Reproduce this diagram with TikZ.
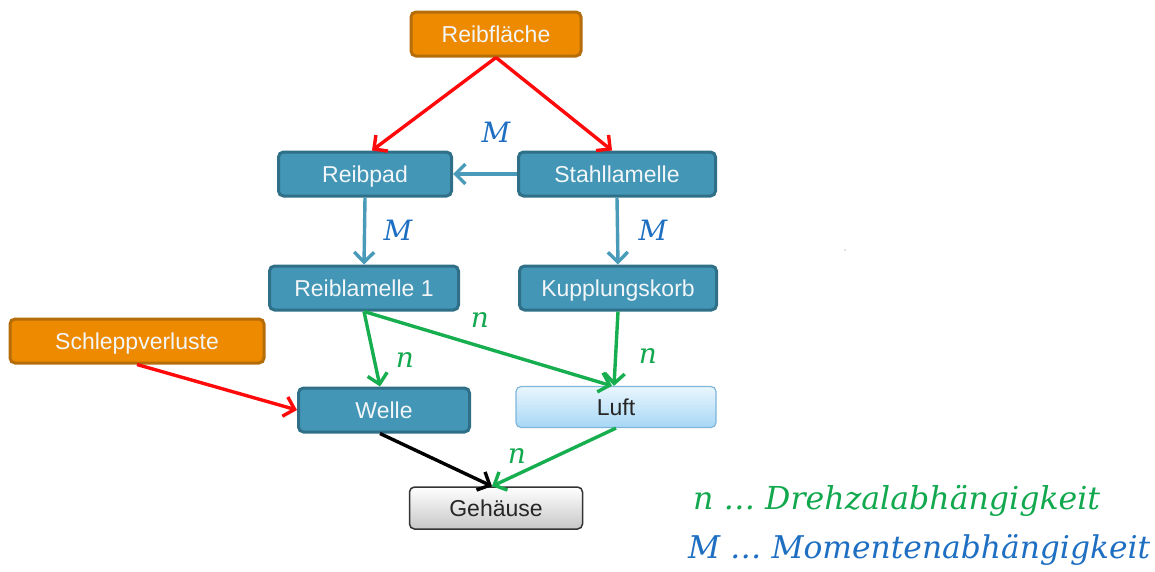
\documentclass[tikz,border=0pt]{standalone}
\usepackage{fontspec}
\setmainfont{Liberation Sans}
\newfontfamily\mathlike{DejaVu Serif}
\usetikzlibrary{arrows.meta,calc}

\definecolor{orangefill}{HTML}{EE8A00}
\definecolor{orangeedge}{HTML}{B56D0A}
\definecolor{tealfill}{HTML}{4396B6}
\definecolor{tealedge}{HTML}{2F6F87}
\definecolor{tealline}{HTML}{4A9BBA}
\definecolor{airtop}{HTML}{EAF6FE}
\definecolor{airbottom}{HTML}{A6D7F5}
\definecolor{airedge}{HTML}{7DB6D9}
\definecolor{redline}{HTML}{FF0A0A}
\definecolor{greenline}{HTML}{17AE4F}
\definecolor{labelblue}{HTML}{1E6FC2}
\definecolor{labelgreen}{HTML}{12A84E}
\definecolor{boxtext}{HTML}{F2F6F8}

\tikzset{
  box/.style={rounded corners=5pt, line width=3pt, minimum height=44pt,
    inner sep=0pt, text height=16.5pt, text depth=0pt,
    font=\fontsize{23}{26}\selectfont, text=boxtext},
  source/.style={box, fill=orangefill, draw=orangeedge},
  part/.style={box, fill=tealfill, draw=tealedge},
  air/.style={box, line width=1.2pt, draw=airedge, top color=airtop,
    bottom color=airbottom, text=black!85, minimum height=41pt},
  housing/.style={box, line width=1.5pt, draw=black!80, top color=white,
    bottom color=black!22, text=black!85, minimum height=42pt},
  link/.style={line width=3.4pt, -{Straight Barb[length=10pt,width=20pt]}},
  loss/.style={link, draw=redline},
  torque/.style={link, draw=tealline},
  speed/.style={link, draw=greenline},
  solid link/.style={link, draw=black},
  mlabel/.style={font=\mathlike\itshape\fontsize{28}{30}\selectfont, text=labelblue},
  nlabel/.style={font=\mathlike\itshape\fontsize{28}{30}\selectfont, text=labelgreen},
}

\begin{document}
\begin{tikzpicture}[x=1pt,y=-1pt]
  \useasboundingbox (0,0) rectangle (1155,571);

  % blocks
  \node[source, minimum width=170pt] (rf) at (496,34) {Reibfläche};
  \node[part, minimum width=173pt] (rp) at (365,174) {Reibpad};
  \node[part, minimum width=197pt] (sl) at (617,174) {Stahllamelle};
  \node[part, minimum width=189pt] (rl) at (364,288) {Reiblamelle 1};
  \node[part, minimum width=197pt] (kk) at (618,288) {Kupplungskorb};
  \node[source, minimum width=254pt] (sv) at (137,341) {Schleppverluste};
  \node[part, minimum width=171pt] (we) at (384,410) {Welle};
  \node[air, minimum width=200pt] (lu) at (616,407) {Luft};
  \node[housing, minimum width=173pt] (ge) at (496,508) {Gehäuse};

  % friction input
  \draw[loss] (rf.south) -- ($(rp.north)+(7,0)$);
  \draw[loss] (rf.south) -- ($(sl.north)+(-5,0)$);
  \draw[loss] (sv.south) -- (we.west);

  % torque paths
  \draw[torque] (sl.west) -- (rp.east);
  \draw[torque] (rp.south) -- (rl.north);
  \draw[torque] (sl.south) -- (kk.north);

  % speed paths
  \draw[speed] (rl.south) -- ($(we.north)+(-4,0)$);
  \draw[speed] (rl.south) -- ($(lu.north)+(-4,0)$);
  \draw[speed] (kk.south) -- ($(lu.north)+(-2,0)$);
  \draw[speed] (lu.south) -- ($(ge.north)+(-4,0)$);
  \draw[solid link] ($(we.south)+(-4,0)$) -- ($(ge.north)+(-4,0)$);

  % dependency labels
  \node[mlabel] (m1) at (496,132) {M};
  \node[mlabel] (m2) at (398,230) {M};
  \node[mlabel] (m3) at (653,230) {M};
  \node[nlabel] (n1) at (480,320) {n};
  \node[nlabel] (n2) at (405,360) {n};
  \node[nlabel] (n3) at (648,356) {n};
  \node[nlabel] (n4) at (517,456) {n};

  % legend
  \node[anchor=base west, inner sep=0pt, text=labelgreen] (legn) at (693,509)
    {\resizebox{407pt}{!}{\mathlike\itshape\fontsize{28}{30}\selectfont n … Drehzalabhängigkeit}};
  \node[anchor=base west, inner sep=0pt, text=labelblue] (legm) at (688,558)
    {\resizebox{462pt}{!}{\mathlike\itshape\fontsize{28}{30}\selectfont M … Momentenabhängigkeit}};

  % stray dot
  \fill[black!50] (845,250) circle (0.7pt);
\end{tikzpicture}
\end{document}
